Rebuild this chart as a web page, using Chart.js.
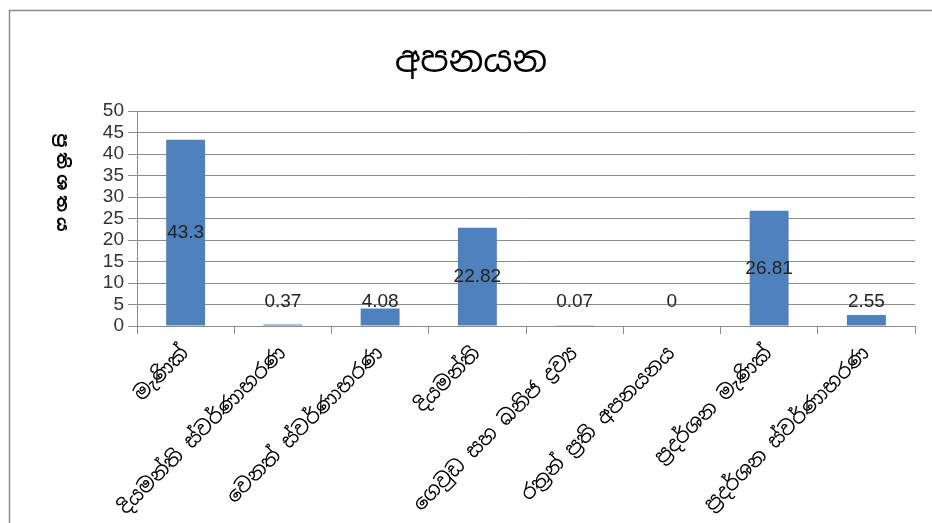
<!DOCTYPE html>
<html>
<head>
<meta charset="utf-8">
<script src="https://cdn.jsdelivr.net/npm/chart.js@4"></script>
<style>
  html, body { margin: 0; padding: 0; background: #fff; }
  #wrap { width: 932px; height: 523px; }
</style>
</head>
<body>
<div id="wrap"><canvas id="barChart" width="932" height="523"></canvas></div>
<script>
// අපනයන - ප්‍රතිශතය අනුව
const categories = ['මැණික්', 'දියමන්ති ස්වර්ණාභරණ', 'වෙනත් ස්වර්ණාභරණ', 'දියමන්ති',
  'ගෙවුඩ සහ ඛනිජ ද්‍රව්‍ය', 'රත්‍රන් ප්‍රති අපනයනය', 'ප්‍රදර්ශන මැණික්', 'ප්‍රදර්ශන ස්වර්ණාභරණ'];
const values = [43.3, 0.37, 4.08, 22.82, 0.07, 0, 26.81, 2.55];
const yTicks = [0, 5, 10, 15, 20, 25, 30, 35, 40, 45, 50];
const chartTitle = 'අපනයන';
const yTitle = 'ප්‍රතිශතය';

const sinhalaFont = '"Noto Sans Sinhala", "Iskoola Pota", "LKLUG", "DejaVu Sans", sans-serif';
const numFont = '"Liberation Sans", Arial, sans-serif';

// borde, título y etiquetas de valor
const extras = {
  id: 'extras',
  beforeDraw(chart) {
    const ctx = chart.ctx;
    ctx.save();
    ctx.strokeStyle = '#8c8c8c';
    ctx.lineWidth = 1.5;
    ctx.strokeRect(9.5, 10.5, 940, 540);
    ctx.restore();
  },
  afterDraw(chart) {
    const ctx = chart.ctx;
    ctx.save();
    ctx.fillStyle = '#000';
    ctx.textAlign = 'center';
    ctx.textBaseline = 'middle';
    ctx.font = '36px ' + sinhalaFont;
    ctx.fillText(chartTitle, 471, 62);

    // título vertical del eje y
    ctx.save();
    ctx.translate(62, 185);
    ctx.rotate(Math.PI / 2);
    ctx.font = 'bold 17px ' + sinhalaFont;
    ctx.letterSpacing = '5px';
    ctx.fillText(yTitle, 0, 0);
    ctx.restore();

    // etiquetas de datos
    ctx.font = '19px ' + numFont;
    ctx.fillStyle = '#222';
    const meta = chart.getDatasetMeta(0);
    const base = chart.scales.y.getPixelForValue(0);
    meta.data.forEach((bar, i) => {
      const y = Math.min((bar.y + base) / 2, base - 24);
      ctx.fillText(String(values[i]), bar.x, y);
    });
    ctx.restore();
  }
};

new Chart(document.getElementById('barChart'), {
  type: 'bar',
  data: {
    labels: categories,
    datasets: [{
      data: values,
      backgroundColor: '#4F81BD',
      categoryPercentage: 1,
      barPercentage: 0.4
    }]
  },
  options: {
    responsive: false,
    animation: false,
    layout: { padding: { top: 111, right: 17, left: 0, bottom: 0 } },
    plugins: {
      legend: { display: false },
      title: { display: false },
      tooltip: { enabled: false }
    },
    scales: {
      x: {
        grid: { drawOnChartArea: false, color: '#8c8c8c', tickLength: 8 },
        border: { color: '#8c8c8c' },
        ticks: {
          minRotation: 45, maxRotation: 45, autoSkip: false, padding: 8,
          color: '#000', font: { family: sinhalaFont, size: 20 }
        },
        afterFit(s) { s.height = 197; }
      },
      y: {
        min: 0, max: 50,
        afterBuildTicks(s) { s.ticks = yTicks.map(v => ({ value: v })); },
        grid: { color: '#8c8c8c', tickLength: 9 },
        border: { color: '#8c8c8c' },
        ticks: { color: '#333', padding: 4, autoSkip: false, font: { family: numFont, size: 19 } },
        afterFit(s) { s.width = 137; }
      }
    }
  },
  plugins: [extras]
});
</script>
</body>
</html>
